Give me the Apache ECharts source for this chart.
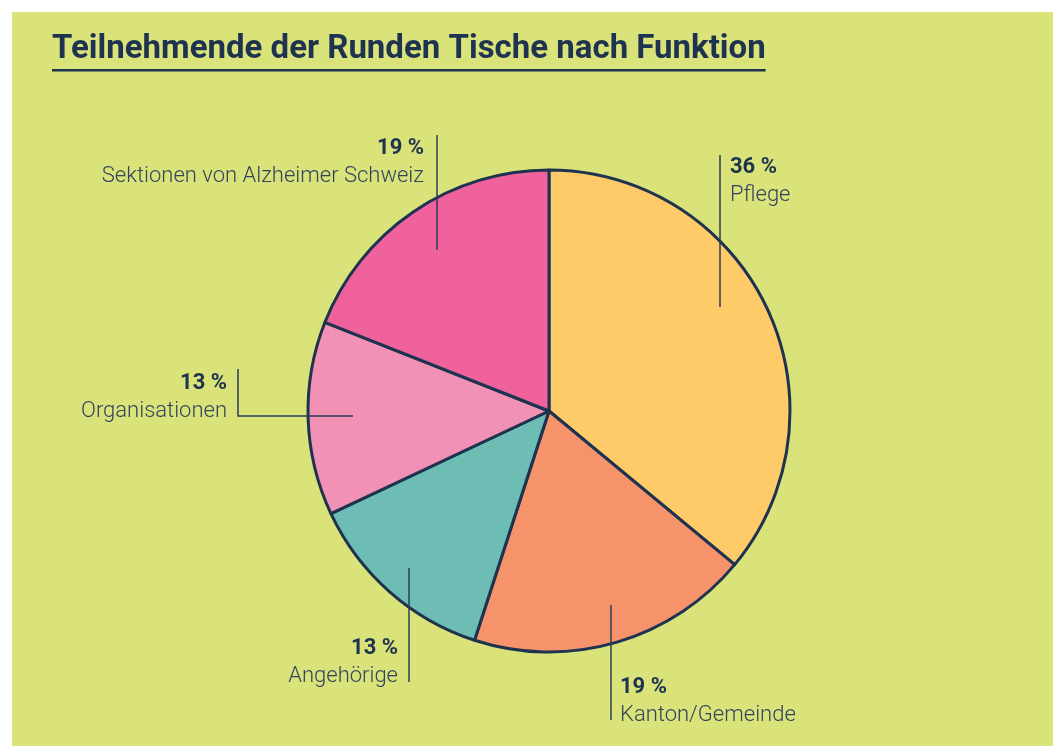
<!DOCTYPE html>
<html>
<head>
<meta charset="utf-8">
<title>Teilnehmende der Runden Tische nach Funktion</title>
<script src="https://cdn.jsdelivr.net/npm/echarts@6/dist/echarts.min.js"></script>
<style>
  html, body { margin: 0; padding: 0; background: #fff; }
  #main { width: 1053px; height: 746px; }
</style>
</head>
<body>
<div id="main"></div>
<script>
// data (percent of participants)
var categories = ["Pflege", "Kanton/Gemeinde", "Angehörige", "Organisationen", "Sektionen von Alzheimer Schweiz"];
var shares = [36, 19, 13, 13, 19];
var colors = ["#fecb68", "#f6936b", "#6ebdb4", "#f191b5", "#f0629c"];

var titleText = "Teilnehmende der Runden Tische nach Funktion";
var navy = "#1e3350";
var cx = 549, cy = 411;

// label placement relative to pie centre: text anchor + leader line points
var labelPos = [
  { x: 181, y: -258, align: "left", line: [[171, -104], [171, -180], [171, -256]] },
  { x: 71, y: 262, align: "left", line: [[62, 194], [62, 250], [62, 309]] },
  { x: -151, y: 223, align: "right", line: [[-140, 157], [-140, 210], [-140, 271]] },
  { x: -322, y: -42, align: "right", line: [[-196, 5], [-311, 5], [-311, -42]] },
  { x: -125, y: -277, align: "right", line: [[-112, -161], [-112, -220], [-112, -276]] }
];

var titleFont = "bold 33px Roboto";
var ctx = document.createElement("canvas").getContext("2d");
ctx.font = titleFont;
var titleWidth = ctx.measureText(titleText).width;

var pieData = categories.map(function (name, i) {
  return { name: name, value: shares[i], itemStyle: { color: colors[i] } };
});

var myChart = echarts.init(document.getElementById("main"));
myChart.setOption({
  animation: false,
  graphic: [
    { type: "rect", z: -10, shape: { x: 12, y: 12, width: 1053, height: 746 }, style: { fill: "#dae379" } },
    { type: "text", left: 52, top: 33, style: { text: titleText, font: titleFont, fill: navy } },
    { type: "rect", shape: { x: 52, y: 69, width: titleWidth, height: 2.5 }, style: { fill: navy } }
  ],
  series: [
    {
      type: "pie",
      center: [cx, cy],
      radius: 241,
      startAngle: 90,
      clockwise: true,
      silent: true,
      itemStyle: { borderColor: navy, borderWidth: 3 },
      label: { show: false },
      labelLine: { show: false },
      data: pieData
    },
    {
      // transparent copy on top, carries the labels so leader lines sit above the slices
      type: "pie",
      z: 3,
      center: [cx, cy],
      radius: 241,
      startAngle: 90,
      clockwise: true,
      silent: true,
      avoidLabelOverlap: false,
      itemStyle: { color: "transparent", borderWidth: 0 },
      data: categories.map(function (name, i) { return { name: name, value: shares[i] }; }),
      label: {
        show: true,
        formatter: "{p|{c} %}\n{n|{b}}",
        rich: {
          p: { fontFamily: "Roboto", fontWeight: "bold", fontSize: 22, color: navy, lineHeight: 28 },
          n: { fontFamily: "Roboto", fontWeight: 300, fontSize: 22, color: "#33445e", lineHeight: 28 }
        }
      },
      labelLine: { show: true, smooth: false, lineStyle: { color: "#2b3c5a", width: 1.5 } },
      labelLayout: function (params) {
        var p = labelPos[params.dataIndex];
        return {
          x: cx + p.x,
          y: cy + p.y,
          align: p.align,
          verticalAlign: "top",
          labelLinePoints: p.line.map(function (pt) { return [cx + pt[0], cy + pt[1]]; })
        };
      }
    }
  ]
});
</script>
</body>
</html>
